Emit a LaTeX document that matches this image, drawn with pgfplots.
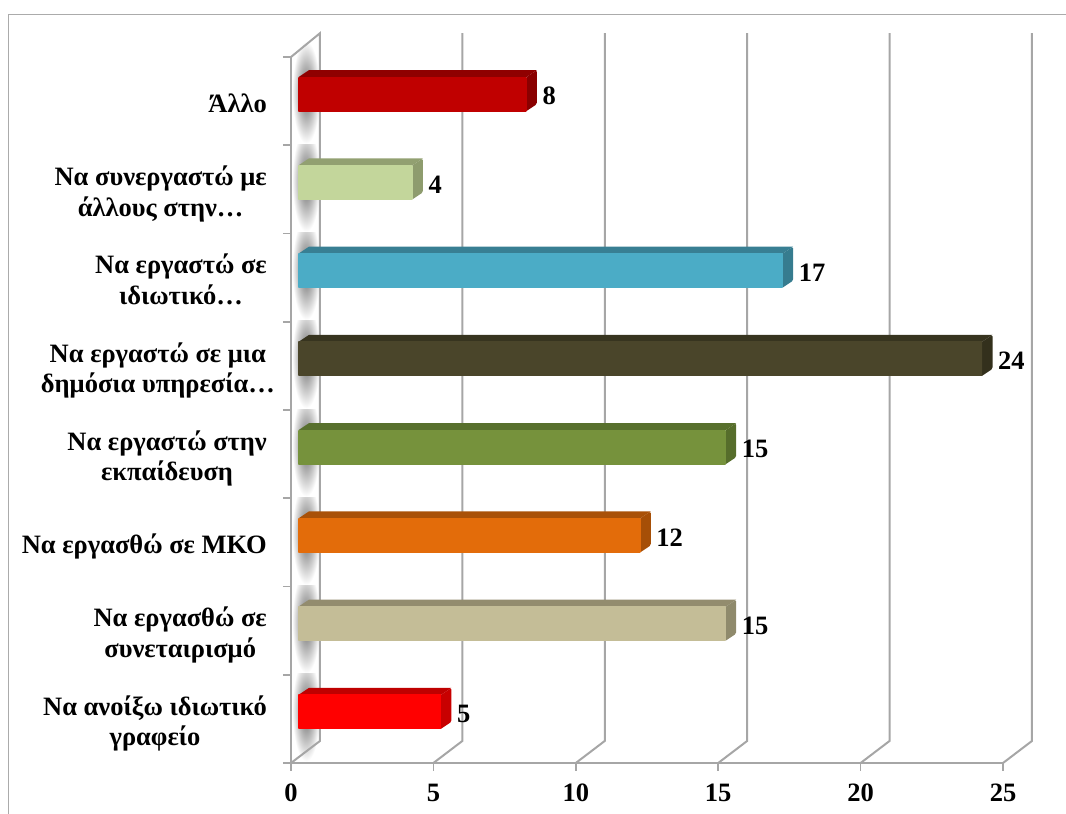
\documentclass[border=0pt]{standalone}
\usepackage{pgfplots}
\usepackage{pgfplotstable}
\usepackage{fontspec}
\setmainfont{Liberation Serif}
\pgfplotsset{compat=1.18}

\definecolor{wallgray}{HTML}{A6A6A6}
\definecolor{framegray}{HTML}{ABABAB}

% one set of colours per bar: front, top, side
\definecolor{fa}{HTML}{FF0000}\definecolor{ta}{HTML}{BF0000}\definecolor{sa}{HTML}{C80000}
\definecolor{fb}{HTML}{C4BD97}\definecolor{tb}{HTML}{938C6E}\definecolor{sb}{HTML}{8F8A6C}
\definecolor{fc}{HTML}{E36C0A}\definecolor{tc}{HTML}{A95108}\definecolor{sc}{HTML}{A64F07}
\definecolor{fd}{HTML}{76923C}\definecolor{td}{HTML}{58702D}\definecolor{sd}{HTML}{566D2B}
\definecolor{fe}{HTML}{4A452A}\definecolor{te}{HTML}{37341F}\definecolor{se}{HTML}{33301C}
\definecolor{ff}{HTML}{4BACC6}\definecolor{tf}{HTML}{387F93}\definecolor{sf}{HTML}{367C8F}
\definecolor{fg}{HTML}{C3D69B}\definecolor{tg}{HTML}{92A071}\definecolor{sg}{HTML}{8E9C6E}
\definecolor{fh}{HTML}{C00000}\definecolor{th}{HTML}{8F0000}\definecolor{sh}{HTML}{8A0000}

\newcommand{\barshade}[1]{%
  \pgfdeclareverticalshading{shade#1}{100bp}{%
    color(0bp)=(f#1!60!black);color(5bp)=(f#1!85!black);color(10bp)=(f#1);
    color(84bp)=(f#1);color(92bp)=(f#1!75!white);color(100bp)=(f#1!88!white)}}
\barshade{a}\barshade{b}\barshade{c}\barshade{d}\barshade{e}\barshade{f}\barshade{g}\barshade{h}

% faces of the box, a = share of the value, dx and dy = offset in axis units
\pgfplotstableread{
a dx dy
0 0 0.1926
0 0.369 0.272
1 0.369 0.272
1 0 0.1926
}\topface
\pgfplotstableread{
a dx dy
1 0 0.1926
1 0.369 0.272
1 0.369 -0.1133
1 0 -0.1926
}\sideface
\pgfplotstableread{
x dy
0.04 -0.48
1.02 -0.48
1.02 0.68
0.04 0.68
}\wallshadow

\newcommand{\wallblob}[1]{%
  \addplot[draw=none,shade,inner color=black!62,outer color=white,forget plot]
    table[x=x,y expr=#1+\thisrow{dy}] {\wallshadow};}

\newcommand{\boxbar}[3]{%
  \addplot[fill=t#3,draw=none,xshift=7.5pt,yshift=7pt,forget plot]
    table[x expr=\thisrow{a}*#1+\thisrow{dx},y expr=#2+\thisrow{dy}] {\topface};
  \addplot[fill=s#3,draw=none,rounded corners=1.5pt,xshift=7.5pt,yshift=7pt,forget plot]
    table[x expr=\thisrow{a}*#1+\thisrow{dx},y expr=#2+\thisrow{dy}] {\sideface};
  \addplot[xbar,bar width=34pt,bar shift=0pt,draw=none,shade,shading=shade#3,
    xshift=7.5pt,yshift=7pt,forget plot,nodes near coords,
    every node near coord/.append style={anchor=west,inner sep=0pt,xshift=16pt,yshift=-2pt,
      text=black,font=\fontsize{26.5}{30}\selectfont\bfseries}]
    coordinates {(#1,#2)};}

\newcommand{\lab}[2]{\begin{tabular}{@{}c@{}}#2\end{tabular}\hspace*{#1pt}}

\begin{document}
\begin{tikzpicture}[x=1pt,y=1pt]
\useasboundingbox (0,0) rectangle (1066,814);
\draw[framegray,line width=1pt] (8,0) -- (8,799) -- (1066,799);
\begin{axis}[
  at={(291pt,51pt)},anchor=origin,
  scale only axis,width=712pt,height=706pt,
  xmin=0,xmax=25,ymin=0,ymax=8,
  clip=false,
  axis x line=bottom,axis y line=left,
  axis line style={-,wallgray,line width=2.2pt},
  xtick={0,5,10,15,20,25},
  ytick={0,1,2,3,4,5,6,7,8},
  yticklabels={},
  tick style={wallgray,line width=1.6pt},
  tick align=outside,
  major tick length=8pt,
  /pgf/number format/assume math mode=true,
  xticklabel style={font=\fontsize{26.5}{30}\selectfont\bfseries,yshift=-9pt,
    text height=18pt,text depth=0pt},
  extra y ticks={0.5,1.5,2.5,3.5,4.5,5.5,6.5,7.5},
  extra y tick labels={
    \lab{24}{Να ανοίξω ιδιωτικό\\γραφείο},
    \lab{24}{Να εργασθώ σε\\συνεταιρισμό},
    \lab{24}{Να εργασθώ σε ΜΚΟ},
    \lab{24}{Να εργαστώ στην\\εκπαίδευση},
    \lab{16}{Να εργαστώ σε μια\\δημόσια υπηρεσία…},
    \lab{24}{Να εργαστώ σε\\ιδιωτικό…},
    \lab{24}{Να συνεργαστώ με\\άλλους στην…},
    \raisebox{-1pt}{\lab{24}{Άλλο}}},
  extra y tick style={major tick length=0pt,
    yticklabel style={inner sep=0pt,yshift=-5.5pt,font=\fontsize{26.5}{30.5}\selectfont\bfseries}},
]
% shadows on the left wall
\wallblob{0.5}\wallblob{1.5}\wallblob{2.5}\wallblob{3.5}
\wallblob{4.5}\wallblob{5.5}\wallblob{6.5}\wallblob{7.5}
% back wall and floor lines
\addplot[wallgray,line width=2pt,forget plot] coordinates {(0,8) (1.018,8.27) (1.018,0.25) (0,0)};
\addplot[wallgray,line width=2pt,forget plot] coordinates {(5,0) (6.018,0.25) (6.018,8.27)};
\addplot[wallgray,line width=2pt,forget plot] coordinates {(10,0) (11.018,0.25) (11.018,8.27)};
\addplot[wallgray,line width=2pt,forget plot] coordinates {(15,0) (16.018,0.25) (16.018,8.27)};
\addplot[wallgray,line width=2pt,forget plot] coordinates {(20,0) (21.018,0.25) (21.018,8.27)};
\addplot[wallgray,line width=2pt,forget plot] coordinates {(25,0) (26.018,0.25) (26.018,8.27)};
% bars: value, category position, colour set
\boxbar{5}{0.5}{a}
\boxbar{15}{1.5}{b}
\boxbar{12}{2.5}{c}
\boxbar{15}{3.5}{d}
\boxbar{24}{4.5}{e}
\boxbar{17}{5.5}{f}
\boxbar{4}{6.5}{g}
\boxbar{8}{7.5}{h}
\end{axis}
\end{tikzpicture}
\end{document}
